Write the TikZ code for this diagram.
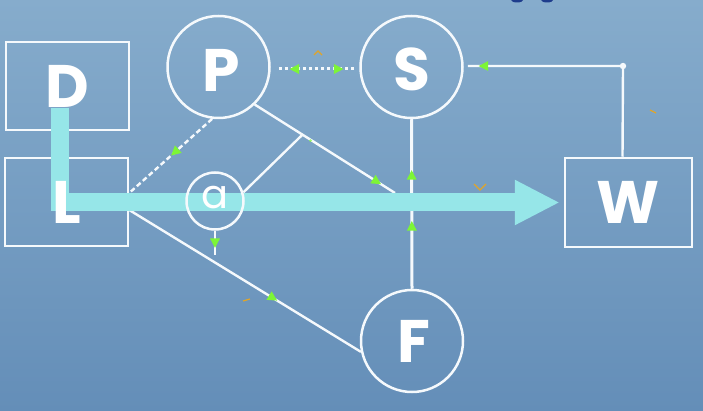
\documentclass[tikz,border=0pt]{standalone}
\usepackage{fontspec}
\setmainfont{Poppins}
\usetikzlibrary{arrows.meta,decorations.markings,calc}
\definecolor{bgtop}{RGB}{134,172,204}
\definecolor{bgbot}{RGB}{100,142,184}
\definecolor{bandc}{RGB}{150,230,232}
\definecolor{gr}{RGB}{125,245,55}
\definecolor{wl}{RGB}{245,249,252}
\definecolor{orng}{RGB}{225,165,40}
\definecolor{dkb}{RGB}{30,60,140}
\tikzset{
 lbl/.style={text=white, font=\bfseries\fontsize{60}{60}\selectfont, inner sep=0pt},
 boxn/.style={draw=wl, line width=2.5pt, minimum width=123pt, minimum height=88pt, inner sep=0pt},
 circn/.style={circle, draw=wl, line width=2.5pt, minimum size=102pt, inner sep=0pt},
 wline/.style={draw=wl, line width=2.4pt},
 gf/.style={postaction={decorate, decoration={markings, mark=at position #1 with {\fill[gr] (5pt,0pt) -- (-4.5pt,5pt) -- (-4.5pt,-5pt) -- cycle;}}}},
 gb/.style={postaction={decorate, decoration={markings, mark=at position #1 with {\fill[gr] (-5pt,0pt) -- (4.5pt,5pt) -- (4.5pt,-5pt) -- cycle;}}}},
 bandline/.style={draw=bandc, line width=18pt, line join=miter, -{Triangle[width=42pt,length=45pt]}},
 orm/.style={draw=orng, line width=1.2pt},
}
\begin{document}
\begin{tikzpicture}[x=1pt,y=-1pt]
\shade[top color=bgtop, bottom color=bgbot] (0,0) rectangle (703,411);
\useasboundingbox (0,0) rectangle (703,411);
% cut-off dark text at top
\fill[dkb] (517,0) ellipse (6pt and 2.5pt);
\fill[dkb] (547,0) ellipse (6pt and 2.5pt);
% nodes
\node[boxn] (D) at (67.5,86) {};
\node[boxn] (L) at (66.5,202) {};
\node[boxn, minimum width=127pt, minimum height=89pt] (W) at (628.5,202.5) {};
\node[circn] (P) at (218.5,67) {};
\node[circn] (S) at (411.5,67) {};
\node[circn] (F) at (412,341) {};
\coordinate (A0) at (215,201);
\coordinate (pb) at (395,193);
\coordinate (ad) at (215,255);
\coordinate (wc) at (623,66);
\coordinate (bs) at (60,108);
% connectors
\draw[wline, line width=3pt, dash pattern=on 3pt off 3pt, gb=0.21, gf=0.79] ([xshift=8pt,yshift=-2pt]P.east) -- ([xshift=-5pt,yshift=-2pt]S.west);
\draw[wline, dash pattern=on 5pt off 3pt, gf=0.45] (P.-97) -- ([yshift=9pt]L.east);
\draw[wline, gf=0.87] (P.-46) -- coordinate[pos=0.34] (j) (pb);
\draw[wline, gf=0.62] ([yshift=-8pt]L.east) -- (F.192);
\draw[wline, line width=3pt, gb=0.33, gb=0.63] (S.south) -- (F.north);
\draw[wline, gf=0.935] ([xshift=-6pt]W.north) -- (wc) -- ([xshift=4pt]S.east |- wc);
\fill[wl] (wc) circle (3.2pt);
% thick flow arrow
\draw[bandline, shorten >=4pt] (bs) |- (W.west);
% small a circle above the band
\node[circn, minimum size=57pt] (A) at (A0) {};
\draw[wline] (A.17) -- (j);
\draw[wline, gf=0.5] (A.south) -- (ad);
\fill[gr, opacity=0.7] ([xshift=8pt,yshift=-6pt]j) circle (1.5pt);
% labels
\node[lbl] at (D.center) {D};
\node[lbl] at (L.center) {L};
\node[lbl] at (W.center) {W};
\node[lbl] at ([xshift=3pt,yshift=-3pt]P.center) {P};
\node[lbl] at ([yshift=-2pt]S.center) {S};
\node[lbl] at ([xshift=2pt]F.center) {F};
\node[text=white, font=\fontsize{40}{40}\selectfont, inner sep=0pt] at ([yshift=3pt]A.center) {a};
% faint orange marks
\draw[orm] (314,55) -- (318,51) -- (322,55);
\draw[orm] (474,184) -- (480,190) -- (486,184);
\draw[orm] (650,110) -- (656,113);
\draw[orm] (243,301) -- (250,299);
\end{tikzpicture}
\end{document}
